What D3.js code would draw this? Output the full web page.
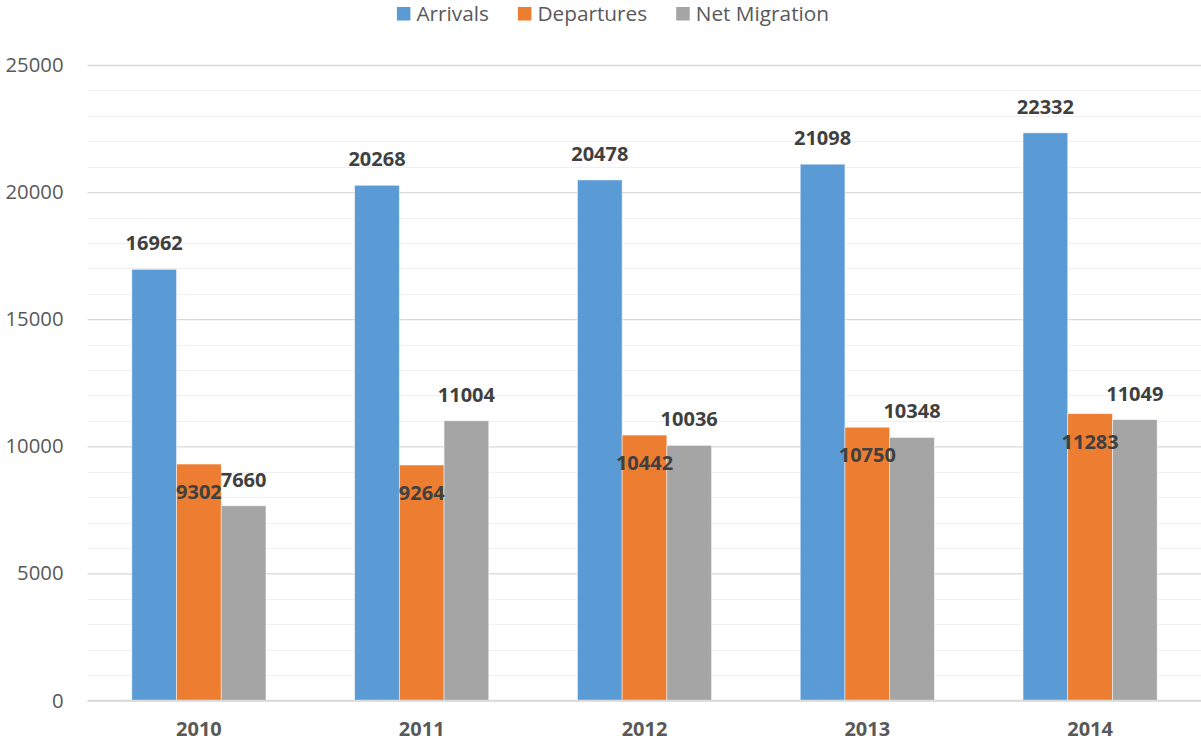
<!DOCTYPE html>
<html>
<head>
<meta charset="utf-8">
<script src="https://cdn.jsdelivr.net/npm/d3@7"></script>
<style>
  html, body { margin: 0; padding: 0; background: #fff; }
  svg { display: block; font-family: "Open Sans", sans-serif; }
</style>
</head>
<body>
<svg id="chart" width="1201" height="742"></svg>
<script>
const years = ["2010", "2011", "2012", "2013", "2014"];
const seriesNames = ["Arrivals", "Departures", "Net Migration"];
const arrivals = [16962, 20268, 20478, 21098, 22332];
const departures = [9302, 9264, 10442, 10750, 11283];
const netMigration = [7660, 11004, 10036, 10348, 11049];
const yTicks = [0, 5000, 10000, 15000, 20000, 25000];
const colors = ["#5B9BD5", "#ED7D31", "#A5A5A5"];

const seriesValues = [arrivals, departures, netMigration];

const svg = d3.select("#chart");
const W = 1201, H = 742;
const mLeft = 87.5, mRight = 1201.5, mTop = 65, mBottom = 700.5;

const x0 = d3.scaleBand().domain(years).range([mLeft, mRight]).paddingInner(0.398).paddingOuter(0.199);
const x1 = d3.scaleBand().domain(seriesNames).range([0, x0.bandwidth()]).padding(0);
const y = d3.scaleLinear().domain([0, 25000]).range([mBottom, mTop]);

// minor gridlines
const minor = d3.range(1000, 25001, 1000).filter(v => v % 5000 !== 0);
svg.append("g").selectAll("line").data(minor).join("line")
  .attr("x1", mLeft).attr("x2", W)
  .attr("y1", d => Math.round(y(d)) + 0.5).attr("y2", d => Math.round(y(d)) + 0.5)
  .attr("stroke", "#f0f0f0").attr("stroke-width", 1.2);

// major gridlines via axis
const yAxis = d3.axisLeft(y).tickValues(yTicks).tickSize(-(W - mLeft)).tickFormat(d3.format("d"));
const gy = svg.append("g").attr("transform", `translate(${mLeft},0)`).call(yAxis);
gy.select(".domain").remove();
gy.selectAll(".tick line").attr("stroke", "#d9d9d9").attr("stroke-width", 1.3);
gy.selectAll(".tick text").attr("x", -24).attr("fill", "#595959")
  .style("font-size", "20.3px").style("font-family", "'Open Sans', sans-serif");

// bars
const groups = svg.append("g").selectAll("g").data(years).join("g")
  .attr("transform", d => `translate(${x0(d)},0)`);

groups.selectAll("rect").data((d, i) => seriesNames.map((s, k) => ({ s, k, v: seriesValues[k][i] })))
  .join("rect")
  .attr("x", d => x1(d.s))
  .attr("width", x1.bandwidth())
  .attr("y", d => y(d.v))
  .attr("height", d => y(0) - y(d.v))
  .attr("fill", d => colors[d.k])
  .attr("stroke", "rgba(255,255,255,0.6)")
  .attr("stroke-width", 0.8);

// data labels
groups.selectAll("text.lbl").data((d, i) => seriesNames.map((s, k) => ({ s, k, v: seriesValues[k][i] })))
  .join("text").attr("class", "lbl")
  .attr("x", d => x1(d.s) + x1.bandwidth() / 2)
  .attr("y", d => d.k === 1 ? y(d.v) + 35 : y(d.v) - 19)
  .attr("text-anchor", "middle")
  .attr("fill", "#404040")
  .style("font-size", "20px").style("font-weight", "bold")
  .text(d => d.v);

// x axis
const xAxis = d3.axisBottom(x0).tickSize(0);
const gx = svg.append("g").attr("transform", `translate(0,${mBottom})`).call(xAxis);
gx.select(".domain").remove();
gx.selectAll(".tick text").attr("dy", 0).attr("y", 35).attr("fill", "#595959")
  .style("font-size", "20px").style("font-weight", "bold").style("font-family", "'Open Sans', sans-serif");

// zero axis line
svg.append("line").attr("x1", mLeft).attr("x2", W)
  .attr("y1", y(0)).attr("y2", y(0)).attr("stroke", "#d9d9d9").attr("stroke-width", 1.3);

// legend
const legend = svg.append("g");
let lx = 0;
seriesNames.forEach((s, k) => {
  const g = legend.append("g").attr("transform", `translate(${lx},0)`);
  g.append("rect").attr("x", 0).attr("y", 7).attr("width", 13.5).attr("height", 13.5).attr("fill", colors[k]);
  const t = g.append("text").attr("x", 19.5).attr("y", 21).attr("fill", "#595959")
    .style("font-size", "20.8px").text(s);
  const w = t.node().getComputedTextLength();
  lx += 19.5 + w + 29;
});
const totalW = lx - 29;
legend.attr("transform", `translate(${613 - totalW / 2},0)`);
</script>
</body>
</html>
